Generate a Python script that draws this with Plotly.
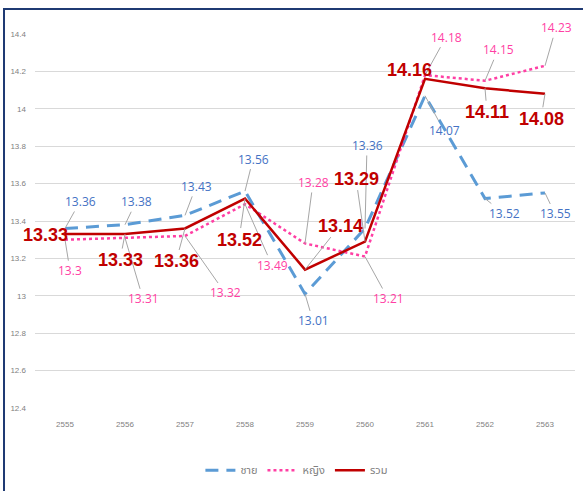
import plotly.graph_objects as go

years = ["2555", "2556", "2557", "2558", "2559", "2560", "2561", "2562", "2563"]
male = [13.36, 13.38, 13.43, 13.56, 13.01, 13.36, 14.07, 13.52, 13.55]
female = [13.30, 13.31, 13.32, 13.49, 13.28, 13.21, 14.18, 14.15, 14.23]
total = [13.33, 13.33, 13.36, 13.52, 13.14, 13.29, 14.16, 14.11, 14.08]
y_ticks = [12.4, 12.6, 12.8, 13.0, 13.2, 13.4, 13.6, 13.8, 14.0, 14.2, 14.4]
y_tick_text = ["12.4", "12.6", "12.8", "13", "13.2", "13.4", "13.6", "13.8", "14", "14.2", "14.4"]

# label offsets (pixels) of data labels from their points
male_off = [(15, -27), (11, -23), (11, -29), (8, -32), (8, 27), (2, -83), (19, 35), (19, 15), (10, 21)]
female_off = [(5, 31), (18, 61), (40, 57), (27, 61), (8, -61), (23, 42), (21, -38), (13, -31), (11, -38)]
total_off = [(-20, 1), (-5, 26), (-9, 33), (-6, 41), (35, -44), (-9, -63), (-16, -9), (2, 24), (-4, 25)]

C_MALE = "#5B9BD5"
C_MALE_T = "#4472C4"
C_FEMALE = "#FF3FA4"
C_TOTAL = "#C00000"

fig = go.Figure()
fig.add_trace(go.Scatter(x=years, y=male, name="ชาย", mode="lines",
                         line=dict(color=C_MALE, width=3, dash="13px,8px")))
fig.add_trace(go.Scatter(x=years, y=female, name="หญิง", mode="lines",
                         line=dict(color=C_FEMALE, width=2.5, dash="dot")))
fig.add_trace(go.Scatter(x=years, y=total, name="รวม", mode="lines",
                         line=dict(color=C_TOTAL, width=2.5)))

annotations = []
def add_labels(vals, offs, color, size, bold):
    for i, (v, (ax, ay)) in enumerate(zip(vals, offs)):
        txt = "%g" % v
        annotations.append(dict(
            x=i, y=v, xref="x", yref="y", ax=ax, ay=ay,
            text=f"<b>{txt}</b>" if bold else txt,
            showarrow=True, arrowhead=0, arrowwidth=1, arrowcolor="#A6A6A6",
            font=dict(color=color, size=size,
                      family="Liberation Sans, Arial" if bold else "Open Sans, Noto Sans, sans-serif"),
        ))

add_labels(male, male_off, C_MALE_T, 12, False)
add_labels(female, female_off, C_FEMALE, 12, False)
add_labels(total, total_off, C_TOTAL, 18, True)

fig.update_layout(
    width=583, height=491,
    margin=dict(l=35, r=8, t=34, b=82),
    paper_bgcolor="white", plot_bgcolor="white",
    showlegend=True,
    legend=dict(orientation="h", x=0.485, xanchor="center", y=-0.163, yanchor="middle",
                font=dict(size=11, color="#7F7F7F", family="Noto Sans Thai, Tahoma, sans-serif"),
                itemwidth=30),
    xaxis=dict(type="category", range=[-0.5, 8.5], showgrid=False, zeroline=False, showline=False,
               ticks="", ticklabelstandoff=10,
               tickfont=dict(size=8, color="#7F7F7F", family="Liberation Sans, Arial")),
    yaxis=dict(range=[12.4, 14.4], tickvals=y_ticks, ticktext=y_tick_text,
               showgrid=True, gridcolor="#D9D9D9", gridwidth=1, zeroline=False, showline=False,
               ticks="", ticklabelstandoff=8,
               tickfont=dict(size=8, color="#7F7F7F", family="Liberation Sans, Arial")),
    annotations=annotations,
    shapes=[dict(type="rect", xref="paper", yref="paper",
                 x0=-0.0574, x1=1.03, y0=-0.25, y1=1.0667,
                 line=dict(color="#1F3A73", width=2), fillcolor="rgba(0,0,0,0)", layer="below")],
)

fig.write_html("out.html", config={"displayModeBar": False},
               post_script="document.body.style.margin='0';")
